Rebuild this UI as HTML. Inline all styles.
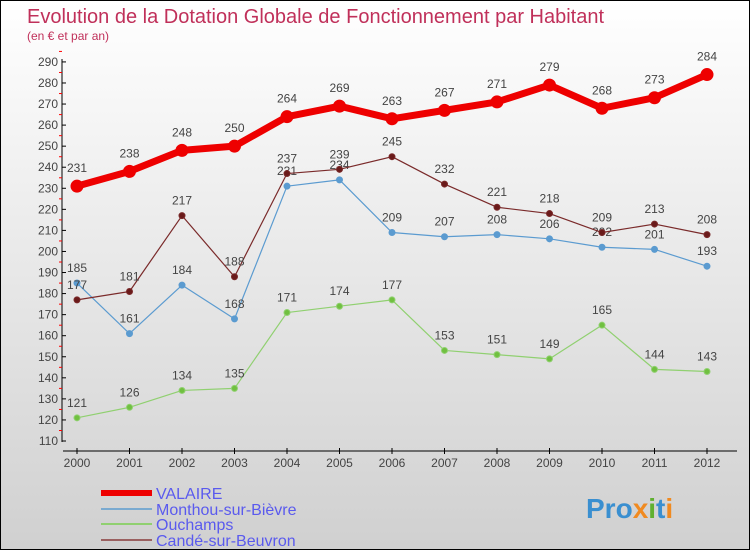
<!DOCTYPE html>
<html><head><meta charset="utf-8"><style>
body{margin:0}
#c{width:750px;height:550px;position:relative;box-sizing:border-box;border:1px solid #000;background:linear-gradient(#fff,#d0d0d0);font-family:"Liberation Sans",sans-serif;overflow:hidden}
svg{position:absolute;left:0;top:0}
</style></head><body>
<div id="c">
<svg id="s" width="750" height="550">
<text x="26" y="22" font-size="20" fill="#c0305a">Evolution de la Dotation Globale de Fonctionnement par Habitant</text>
<text x="26" y="39" font-size="12" fill="#c0305a">(en € et par an)</text>
<g id="g"></g>
<text x="585" y="517" font-size="28" font-weight="bold" fill="#3a8fd0">Pro<tspan fill="#f08a20">x</tspan><tspan fill="#60b030">i</tspan>t<tspan fill="#f08a20">i</tspan></text>
</svg>
</div>
<script>
const years=["2000","2001","2002","2003","2004","2005","2006","2007","2008","2009","2010","2011","2012"];
const valaire=[231,238,248,250,264,269,263,267,271,279,268,273,284];
const monthou=[185,161,184,168,231,234,209,207,208,206,202,201,193];
const ouchamps=[121,126,134,135,171,174,177,153,151,149,165,144,143];
const cande=[177,181,217,188,237,239,245,232,221,218,209,213,208];
const yTicks=[110,120,130,140,150,160,170,180,190,200,210,220,230,240,250,260,270,280,290];
const NS="http://www.w3.org/2000/svg",g=document.getElementById('g');
const X=i=>76+i*52.5, Y=v=>440-(v-110)*2.106;
function mk(t,a){const e=document.createElementNS(NS,t);for(const k in a)e.setAttribute(k,a[k]);g.appendChild(e);return e;}
let e=mk('line',{x1:61,y1:58,x2:61,y2:441,stroke:'#000'});

e=mk('line',{x1:62,y1:450,x2:736,y2:450,stroke:'#000'});

yTicks.forEach(v=>{mk('line',{x1:61,y1:Y(v),x2:65,y2:Y(v),stroke:'#000'});
 mk('line',{x1:58,y1:Y(v)-10.5,x2:61,y2:Y(v)-10.5,stroke:'#f00'});
 e=mk('text',{x:57,y:Y(v)+4,'font-size':12,'text-anchor':'end',fill:'#444'});e.textContent=v;
 });
years.forEach((y,i)=>{mk('line',{x1:X(i),y1:447,x2:X(i),y2:453,stroke:'#000'});
 e=mk('text',{x:X(i),y:466,'font-size':12,'text-anchor':'middle',fill:'#444'});e.textContent=y;
 });
function series(d,col,w,r,fill,name){
 e=mk('polyline',{points:d.map((v,i)=>X(i)+','+Y(v)).join(' '),fill:'none',stroke:col,'stroke-width':w,'stroke-linejoin':'round'});
 
 d.forEach((v,i)=>{e=mk('circle',{cx:X(i),cy:Y(v),r:r,fill:fill,stroke:col,'stroke-width':1});
  
  e=mk('text',{x:X(i),y:Y(v)-8-r,'font-size':12,'text-anchor':'middle',fill:'#444'});e.textContent=v;
  });
}
series(monthou,'#5b9bd0',1.2,3,'#5b9bd0','monthou');
series(ouchamps,'#90d070',1.2,3,'#70c040','ouchamps');
series(cande,'#7a2a2a',1.2,3,'#6a1a1a','cande');
series(valaire,'#ee0000',7,6,'#ee0000','valaire');
const leg=[['VALAIRE','#ee0000',6,492],['Monthou-sur-Bièvre','#7aaad0',2,508],['Ouchamps','#90d070',2,523],['Candé-sur-Beuvron','#9a6060',2,539]];
leg.forEach(l=>{e=mk('line',{x1:100,y1:l[3],x2:151,y2:l[3],stroke:l[1],'stroke-width':l[2]});
 
 e=mk('text',{x:155,y:l[3]+6,'font-size':16,fill:'#5a5aee'});e.textContent=l[0];
 });
</script>
</body></html>
